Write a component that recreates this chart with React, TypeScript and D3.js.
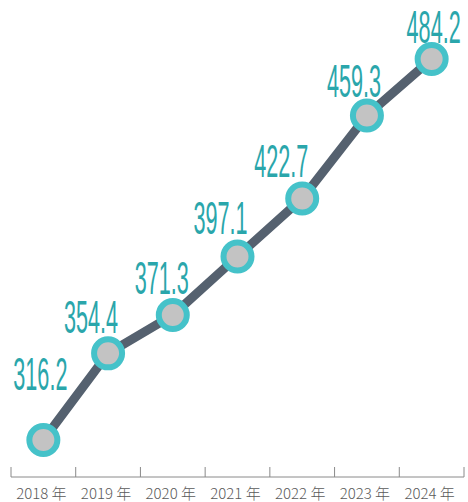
import React from "react";
import { scaleBand, scaleLinear, line } from "d3";

const years = ["2018", "2019", "2020", "2021", "2022", "2023", "2024"];
const values = [316.2, 354.4, 371.3, 397.1, 422.7, 459.3, 484.2];
const yearSuffix = " 年";

// label placement relative to each point (center dx, baseline dy)
const labelDx = [-3, -17, -11, -17, -21, -13, 2];
const labelDy = [-50, -20, -21, -23, -21, -18, -16];

const App = () => {
  const width = 468;
  const height = 502;

  const x = scaleBand().domain(years).range([11, 464]).padding(0);
  const y = scaleLinear().domain([316.2, 484.2]).range([440, 59]);

  const cx = (d: string) => (x(d) as number) + x.bandwidth() / 2;
  const pts: [number, number][] = years.map((d, i) => [cx(d), y(values[i])]);
  const path = line()(pts);

  const axisY = 477;
  const ticks = [...years.map((d) => x(d) as number), x.range()[1]];

  return (
    <svg
      width={width}
      height={height}
      style={{ position: "absolute", left: 0, top: 0, background: "#fff" }}
    >
      <line x1={11} x2={464} y1={axisY} y2={axisY} stroke="#8a8a8a" strokeWidth={1} />
      {ticks.map((t, i) => (
        <line key={i} x1={t} x2={t} y1={axisY - 10} y2={axisY} stroke="#8a8a8a" strokeWidth={1} />
      ))}
      {years.map((d) => (
        <text
          key={d}
          x={cx(d) - 2}
          y={499}
          textAnchor="middle"
          fontSize={15}
          fontWeight={300}
          fill="#5a5a5a"
          fontFamily="'Noto Sans CJK SC', 'Noto Sans', sans-serif"
        >
          {d + yearSuffix}
        </text>
      ))}

      <path d={path || ""} fill="none" stroke="#55616f" strokeWidth={9} strokeLinejoin="round" />

      {pts.map(([px, py], i) => (
        <circle key={i} cx={px} cy={py} r={14} fill="#c3c3c3" stroke="#45c2c9" strokeWidth={6} />
      ))}

      {pts.map(([px, py], i) => (
        <g key={"l" + i} transform={`translate(${px + labelDx[i]},${py + labelDy[i]}) scale(0.47,1)`}>
          <text
            x={0}
            y={0}
            textAnchor="middle"
            fontSize={46}
            fill="#2aa6ab"
            fontFamily="'Liberation Sans Narrow', 'Liberation Sans', sans-serif"
          >
            {values[i].toFixed(1)}
          </text>
        </g>
      ))}
    </svg>
  );
};

export default App;
